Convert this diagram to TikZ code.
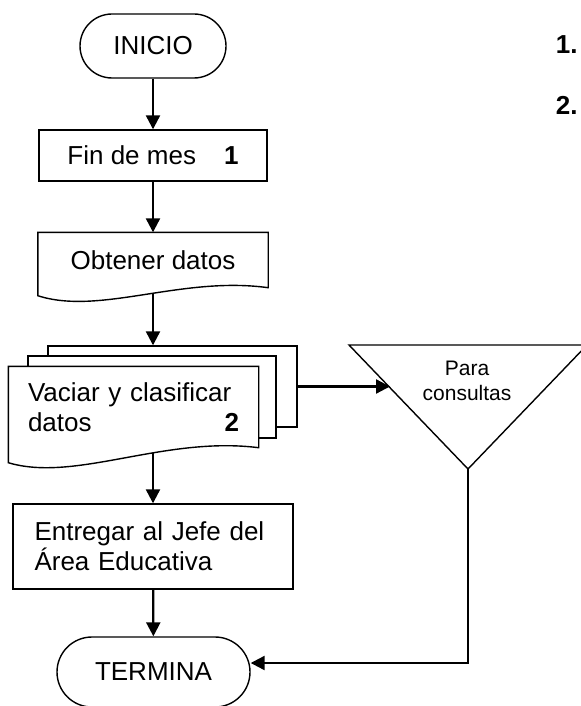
\documentclass[tikz,border=0pt]{standalone}
\usepackage{fontspec}
\setmainfont{Liberation Sans}
\usetikzlibrary{arrows.meta,calc}
\tikzset{
	caja/.style={draw,line width=0.7pt,inner sep=0pt,font=\fontsize{13}{15}\selectfont},
	terminal/.style={caja,rounded corners=16pt},
	hoja/.style={caja,fill=white,minimum width=124.5pt,minimum height=40.5pt},
	flecha/.style={line width=1.15pt,-{Triangle[length=7pt,width=7pt]}},
}
\begin{document}
\begin{tikzpicture}[x=0.5pt,y=-0.5pt]
			\path[use as bounding box](0,0)rectangle(580,706);
			\node[terminal,minimum width=73pt,minimum height=32pt](ini)at(153,46){INICIO};
			\node[caja,minimum width=114pt,minimum height=25.5pt](mes)at(153,155.5){Fin de mes\hspace{14pt}\textbf{1}};
			% documento
			\node[caja,draw=none,minimum width=114.5pt,minimum height=27pt](obt)at(153,260){Obtener datos};
			\draw[line width=0.7pt](obt.north west)--(obt.north east)--(obt.south east)
				..controls +(-87,-12) and +(62,20)..($(obt.south west)+(0,8)$)--cycle;
			% documentos multiples
			\node[hoja](hojaA)at(172.5,386.5){};
			\node[hoja,minimum width=124pt,minimum height=41pt](hojaB)at(152,397){};
			\node[caja,draw=none,fill=white,minimum width=124.5pt,minimum height=40pt,text width=105.5pt,align=left](vac)at(133.5,407)
				{\makebox[\linewidth][s]{Vaciar y clasificar}\\datos\hfill\textbf{2}\hspace{4pt}};
			\draw[line width=0.7pt](vac.north west)--(vac.north east)--(vac.south east)
				..controls +(-95,-12) and +(67,20)..($(vac.south west)+(0,15)$)--cycle;
			\node[caja,minimum width=140pt,minimum height=42.5pt,text width=118.5pt,align=left](ent)at(153,546.5)
				{\makebox[\linewidth][s]{Entregar al Jefe del}\\Área Educativa};
			\node[terminal,rounded corners=17.5pt,minimum width=96.5pt,minimum height=35pt](fin)at(153.5,672){TERMINA};
			% almacenamiento
			\coordinate(tl)at(349,345);
			\coordinate(tr)at(587,345);
			\coordinate(tb)at(468,469);
			\draw[line width=0.7pt](tl)--(tr)--(tb)--cycle;
			\node[inner sep=0pt,align=center,font=\fontsize{10.5}{12.5}\selectfont](para)at(467,381){Para\\consultas};
			\coordinate(llega)at(390,386.5);
			% numeros
			\node[anchor=east,inner sep=0pt,font=\bfseries\fontsize{13}{15}\selectfont](n1)at(578,45){1.};
			\node[anchor=east,inner sep=0pt,font=\bfseries\fontsize{13}{15}\selectfont](n2)at(578,105){2.};
			% flechas
			\draw[flecha](ini)--(mes);
			\draw[flecha](mes)--(obt);
			\draw[flecha]($(obt.south)+(0,5)$)--(obt.south|-hojaA.north);
			\draw[flecha](hojaA.east)--(llega);
			\coordinate(salida)at($(vac.south-|ent.north)+(0,5)$);
			\draw[flecha](salida)--(ent.north);
			\draw[flecha](ent)--(fin);
			\draw[flecha](tb)|-([yshift=4.5pt]fin.east);
		\end{tikzpicture}
\end{document}
